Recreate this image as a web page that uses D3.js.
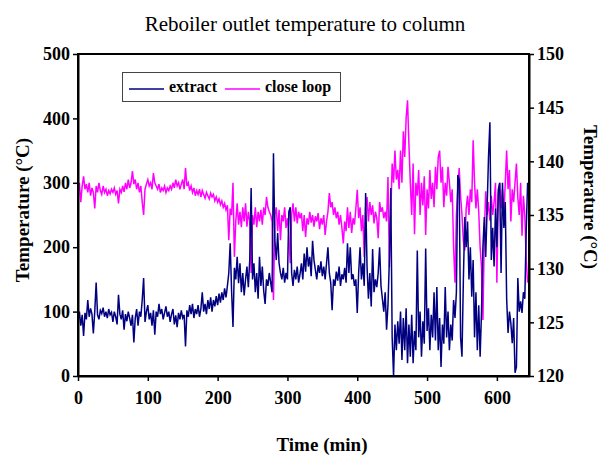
<!DOCTYPE html>
<html>
<head>
<meta charset="utf-8">
<script src="https://d3js.org/d3.v7.min.js"></script>
<style>
  body { margin: 0; background: #fff; }
  svg { font-family: "Liberation Serif", "Times New Roman", serif; }
</style>
</head>
<body>
<div id="chart"></div>
<script>
// sampled every 2 minutes
var times = d3.range(0, 645, 2);

var extract = [
  85,100,78,95,62,98,88,118,92,105,96,66,100,145,95,88,102,97,106,92,100,90,104,95,99,
  84,100,92,80,126,96,88,102,72,96,85,100,90,78,95,52,90,104,78,100,92,118,152,84,100,
  110,88,98,78,102,64,100,92,112,96,104,88,98,108,92,100,84,96,104,80,94,76,98,88,102,
  90,95,46,102,92,110,96,112,90,104,96,110,92,104,130,100,112,96,118,104,122,100,118,108,124,
  110,128,114,130,118,136,122,140,160,206,132,76,168,150,185,144,175,130,160,125,150,170,138,180,292,
  150,175,130,160,120,185,140,170,132,112,150,140,160,145,130,346,210,180,222,175,160,150,168,145,160,
  150,255,262,160,140,165,150,170,145,158,175,150,190,162,200,170,185,155,210,180,165,150,172,160,178,
  155,170,150,175,200,160,145,102,150,140,162,148,170,140,158,150,168,145,206,160,200,150,158,140,150,
  98,160,200,150,175,140,284,170,120,160,108,197,130,150,138,160,200,140,120,100,130,72,110,180,292,
  60,0,80,40,85,50,100,25,90,40,105,20,80,30,95,20,70,40,195,60,100,30,85,50,198,
  70,105,40,95,60,130,55,138,40,90,14,80,50,138,60,100,40,80,55,118,90,130,312,305,60,
  30,150,247,200,240,150,200,123,180,60,130,40,110,30,100,200,247,185,260,340,394,180,230,170,260,
  200,289,300,160,300,230,270,120,67,100,82,51,90,5,14,152,100,116,98,130,120,226,300
];

var closeLoop = [
  285,300,270,295,310,290,298,285,300,280,292,285,260,295,285,300,288,282,295,285,290,280,288,283,290,
  285,292,282,288,268,290,285,295,286,300,290,305,292,300,318,298,305,290,300,285,295,270,250,290,298,
  305,295,300,290,315,300,295,290,298,285,292,288,295,285,292,288,295,290,300,292,305,295,300,290,298,
  305,290,323,295,300,288,295,285,292,280,288,282,290,278,288,282,276,285,280,275,284,278,282,272,278,
  270,275,266,272,262,268,258,265,211,260,250,300,185,240,268,235,255,231,262,240,268,232,255,240,160,
  250,235,262,231,255,240,258,235,262,250,278,262,255,250,240,118,250,262,225,258,211,250,240,262,230,
  245,220,175,250,268,240,262,237,255,245,253,225,250,216,245,235,255,238,250,232,248,240,253,228,245,
  235,250,219,240,255,284,262,270,250,262,245,255,235,250,230,206,240,225,262,230,255,222,245,235,260,
  289,245,262,225,250,185,262,278,240,270,250,265,237,255,245,214,270,255,262,245,255,240,309,169,250,
  330,300,350,305,320,290,350,300,380,340,400,428,360,300,250,330,220,300,280,320,250,300,265,310,219,
  290,260,320,275,300,262,325,290,340,350,300,325,262,300,280,325,300,270,290,200,145,250,290,323,280,
  250,210,195,260,280,250,290,270,366,300,260,290,255,200,168,87,220,287,250,270,241,280,250,270,300,
  145,280,300,260,290,250,300,350,290,320,240,290,270,300,330,277,250,300,218,280,250,180,145
];

var xTicks = [0, 100, 200, 300, 400, 500, 600];
var leftTicks = [0, 100, 200, 300, 400, 500];
var rightTicks = [120, 125, 130, 135, 140, 145, 150];

var w = 600, h = 456;
var svg = d3.select("#chart").append("svg")
  .attr("width", w)
  .attr("height", h);

var x = d3.scaleLinear().domain([0, 646]).range([78, 529]);
var yL = d3.scaleLinear().domain([0, 500]).range([376, 54]);
var yR = d3.scaleLinear().domain([120, 150]).range([376, 54]);

// title
svg.append("text")
  .attr("x", 305).attr("y", 31)
  .attr("text-anchor", "middle")
  .style("font-size", "21px")
  .text("Reboiler outlet temperature to column");

// series
var line = d3.line()
  .x(function (d, i) { return x(times[i]); })
  .y(function (d) { return yL(d); });

svg.append("path")
  .datum(closeLoop)
  .attr("d", line)
  .attr("fill", "none")
  .attr("stroke", "#ff00ff")
  .attr("stroke-width", 1.5);

svg.append("path")
  .datum(extract)
  .attr("d", line)
  .attr("fill", "none")
  .attr("stroke", "#000080")
  .attr("stroke-width", 1.5);

// frame
svg.append("rect")
  .attr("x", 78).attr("y", 54)
  .attr("width", 451).attr("height", 322)
  .attr("fill", "none")
  .attr("stroke", "#000")
  .attr("stroke-width", 2);

// axes
var xAxis = svg.append("g")
  .attr("transform", "translate(0,376)")
  .call(d3.axisBottom(x).tickValues(xTicks).tickSize(5).tickSizeOuter(0).tickPadding(10));

var lAxis = svg.append("g")
  .attr("transform", "translate(78,0)")
  .call(d3.axisLeft(yL).tickValues(leftTicks).tickSize(5).tickSizeOuter(0).tickPadding(3));

var rAxis = svg.append("g")
  .attr("transform", "translate(529,0)")
  .call(d3.axisRight(yR).tickValues(rightTicks).tickSize(5).tickSizeOuter(0).tickPadding(3));

[xAxis, lAxis, rAxis].forEach(function (g) {
  g.select(".domain").attr("stroke-width", 2);
  g.selectAll(".tick line").attr("stroke-width", 1.5);
  g.selectAll("text")
    .style("font-family", "Liberation Serif, Times New Roman, serif")
    .style("font-size", "18px")
    .style("font-weight", "bold")
    .attr("fill", "#000");
});

// axis titles
svg.append("text")
  .attr("transform", "translate(29,210) rotate(-90)")
  .attr("text-anchor", "middle")
  .style("font-size", "19px")
  .style("font-weight", "bold")
  .text("Temperature (°C)");

svg.append("text")
  .attr("transform", "translate(584,197) rotate(90)")
  .attr("text-anchor", "middle")
  .style("font-size", "19px")
  .style("font-weight", "bold")
  .text("Temperature (°C)");

svg.append("text")
  .attr("x", 322).attr("y", 451)
  .attr("text-anchor", "middle")
  .style("font-size", "19px")
  .style("font-weight", "bold")
  .text("Time (min)");

// legend
var legend = svg.append("g");
legend.append("rect")
  .attr("x", 122.5).attr("y", 72.5)
  .attr("width", 218).attr("height", 29)
  .attr("fill", "#fff")
  .attr("stroke", "#444")
  .attr("stroke-width", 1);

var items = [
  { name: "extract", color: "#000080", x0: 129 },
  { name: "close loop", color: "#ff00ff", x0: 225 }
];
items.forEach(function (it) {
  legend.append("line")
    .attr("x1", it.x0).attr("x2", it.x0 + 35)
    .attr("y1", 89).attr("y2", 89)
    .attr("stroke", it.color)
    .attr("stroke-width", 1.5);
  legend.append("text")
    .attr("x", it.x0 + 40).attr("y", 92)
    .style("font-size", "16px")
    .style("font-weight", "bold")
    .text(it.name);
});
</script>
</body>
</html>
